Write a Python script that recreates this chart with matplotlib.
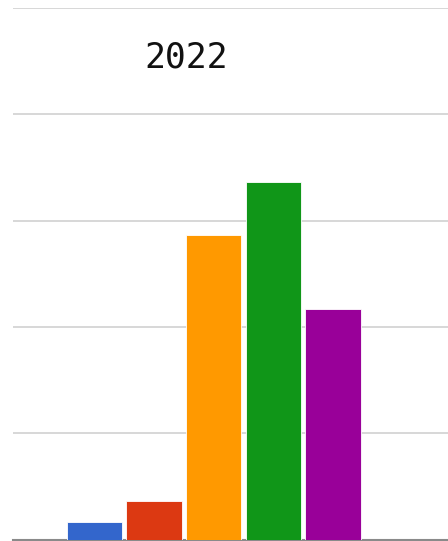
import matplotlib.pyplot as plt

# values (grid step = 10)
categories = ['A', 'B', 'C', 'D', 'E']
values = [1.65, 3.6, 28.6, 33.6, 21.7]
colors = ['#3366cc', '#dc3912', '#ff9900', '#109618', '#990099']
title = '2022'

if __name__ == "__main__":
    fig = plt.figure(figsize=(4.48, 5.41), dpi=100)
    W, H = 448, 541
    # axes spans from x=13px to past the right edge (chart is cropped)
    ax = fig.add_axes([13 / W, 1.5 / H, 1 - 13 / W, (539.5 - 8) / H])

    x = list(range(len(categories)))
    ax.bar(x, values, width=0.93, color=colors, edgecolor='white', linewidth=0.6, zorder=3)

    ax.set_xlim(-1.367, 5.93)
    ax.set_ylim(0, 50)
    ax.set_yticks([10, 20, 30, 40, 50])
    ax.yaxis.grid(True, color='#d4d4d4', linewidth=1.3, zorder=0)
    ax.tick_params(left=False, bottom=False, labelleft=False, labelbottom=False)
    for side in ['top', 'right', 'left']:
        ax.spines[side].set_visible(False)
    ax.spines['bottom'].set_color('#8a8a8a')
    ax.spines['bottom'].set_linewidth(1.5)

    fig.text(186.5 / W, 1 - 57 / H, title, family='DejaVu Sans Mono', fontsize=25,
             ha='center', va='center', color='#111111')

    fig.savefig('out.png', dpi=100)
